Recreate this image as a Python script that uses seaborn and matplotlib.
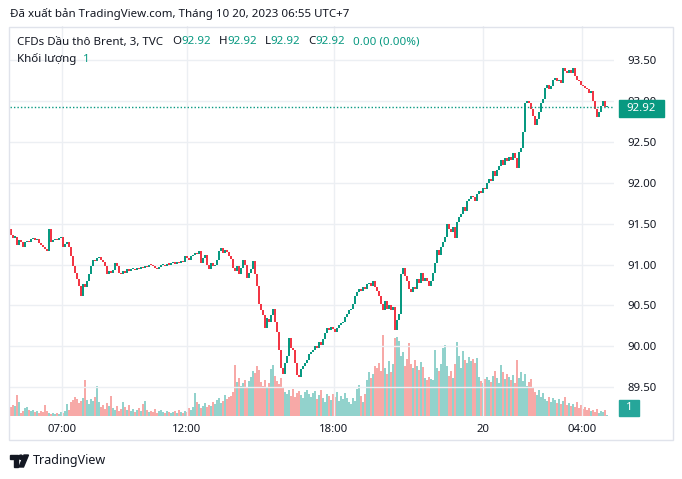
import matplotlib
matplotlib.use("Agg")
import matplotlib.pyplot as plt
import matplotlib.transforms as mtransforms
from matplotlib.patches import Rectangle, Polygon, Circle
import numpy as np
import pandas as pd
import seaborn as sns

# Brent CFD, 3 minute bars (one value per bar)
first_open = 91.43
closes = [
    91.36, 91.33, 91.34, 91.24, 91.30, 91.28, 91.22, 91.27, 91.28, 91.27,
    91.31, 91.32, 91.30, 91.31, 91.26, 91.24, 91.22, 91.19, 91.16, 91.44,
    91.28, 91.30, 91.31, 91.30, 91.32, 91.34, 91.22, 91.25, 91.27, 91.22,
    91.10, 90.98, 90.90, 90.82, 90.74, 90.62, 90.76, 90.72, 90.80, 90.88,
    90.98, 91.06, 91.04, 91.08, 91.09, 91.05, 91.03, 90.98, 90.88, 90.92,
    90.90, 90.93, 91.02, 90.98, 90.90, 90.88, 90.92, 90.90, 90.94, 90.92,
    90.94, 90.95, 90.93, 90.96, 90.95, 90.97, 90.96, 90.98, 90.97, 91.00,
    90.99, 90.98, 90.96, 90.95, 90.97, 90.99, 91.00, 90.98, 91.01, 91.00,
    91.02, 91.03, 91.01, 91.03, 91.02, 91.04, 91.03, 91.10, 91.08, 91.06,
    91.10, 91.12, 91.14, 91.13, 91.16, 91.02, 91.08, 91.12, 91.00, 90.95,
    91.02, 90.98, 91.00, 91.05, 91.16, 91.20, 91.14, 91.18, 91.15, 91.10,
    91.07, 90.96, 90.92, 90.98, 90.88, 90.96, 91.06, 91.00, 90.84, 90.90,
    90.94, 91.04, 90.88, 90.74, 90.52, 90.44, 90.38, 90.22, 90.34, 90.30,
    90.38, 90.46, 90.30, 90.18, 89.95, 89.74, 89.66, 89.80, 89.88, 90.10,
    89.98, 89.95, 89.80, 89.65, 89.62, 89.72, 89.76, 89.80, 89.83, 89.90,
    89.93, 89.96, 90.00, 89.98, 90.05, 90.02, 90.09, 90.16, 90.22, 90.20,
    90.24, 90.21, 90.18, 90.22, 90.26, 90.28, 90.30, 90.36, 90.40, 90.44,
    90.46, 90.52, 90.62, 90.66, 90.70, 90.68, 90.72, 90.70, 90.76, 90.78,
    90.74, 90.80, 90.72, 90.68, 90.62, 90.52, 90.44, 90.56, 90.46, 90.50,
    90.45, 90.48, 90.20, 90.32, 90.40, 90.88, 90.96, 90.86, 90.80, 90.70,
    90.66, 90.72, 90.70, 90.82, 90.78, 90.90, 90.80, 90.84, 90.80, 90.74,
    90.80, 90.90, 91.02, 91.18, 91.12, 91.22, 91.28, 91.34, 91.50, 91.44,
    91.40, 91.46, 91.32, 91.52, 91.58, 91.62, 91.70, 91.66, 91.78, 91.80,
    91.84, 91.82, 91.78, 91.86, 91.90, 91.88, 91.94, 91.92, 92.00, 92.04,
    92.02, 92.14, 92.08, 92.16, 92.20, 92.28, 92.22, 92.30, 92.26, 92.32,
    92.28, 92.36, 92.30, 92.18, 92.38, 92.42, 92.62, 92.98, 93.00, 92.98,
    92.90, 92.82, 92.70, 92.78, 92.86, 92.98, 93.02, 93.16, 93.20, 93.14,
    93.18, 93.26, 93.28, 93.24, 93.26, 93.22, 93.40, 93.36, 93.34, 93.38,
    93.34, 93.40, 93.30, 93.26, 93.24, 93.20, 93.18, 93.16, 93.14, 93.10,
    93.12, 93.00, 92.90, 92.80, 92.86, 92.94, 93.00, 92.92, 92.92,
]
volumes = [
    9, 11, 10, 21, 14, 3, 5, 8, 9, 6,
    5, 6, 4, 5, 3, 5, 4, 11, 5, 3,
    2, 3, 2, 3, 2, 4, 3, 5, 12, 6,
    14, 16, 19, 17, 13, 15, 18, 36, 16, 12,
    17, 15, 19, 30, 14, 9, 11, 7, 13, 10,
    20, 8, 6, 10, 5, 7, 14, 9, 6, 11,
    5, 7, 4, 6, 8, 5, 12, 15, 6, 4,
    5, 4, 7, 3, 5, 6, 4, 3, 5, 4,
    3, 4, 5, 3, 6, 4, 3, 5, 4, 8,
    6, 9, 23, 14, 12, 8, 10, 13, 9, 11,
    10, 14, 12, 16, 18, 13, 15, 21, 17, 19,
    20, 24, 51, 34, 38, 30, 33, 36, 29, 35,
    39, 45, 43, 50, 46, 34, 30, 36, 29, 33,
    47, 51, 40, 35, 32, 38, 28, 24, 22, 26,
    20, 27, 19, 23, 25, 21, 18, 24, 26, 22,
    19, 23, 25, 17, 21, 26, 18, 14, 22, 20,
    16, 22, 19, 24, 15, 20, 17, 23, 18, 14,
    12, 18, 15, 27, 31, 20, 14, 22, 36, 44,
    38, 42, 50, 48, 53, 45, 81, 48, 42, 55,
    44, 52, 78, 79, 75, 60, 64, 50, 57, 73,
    52, 48, 56, 50, 46, 54, 49, 38, 36, 39,
    37, 36, 66, 48, 45, 52, 68, 71, 50, 40,
    45, 38, 52, 74, 60, 48, 65, 56, 53, 59,
    55, 57, 53, 58, 39, 35, 33, 37, 39, 36,
    34, 40, 45, 38, 33, 51, 44, 37, 42, 39,
    36, 41, 33, 56, 38, 44, 35, 42, 30, 34,
    37, 28, 24, 21, 26, 19, 23, 17, 15, 19,
    14, 18, 16, 13, 17, 12, 15, 19, 11, 13,
    10, 12, 9, 14, 8, 11, 7, 9, 6, 8,
    5, 6, 4, 7, 3, 5, 4, 6, 1,
]
time_ticks = [25.5, 88, 161.5, 236, 285.5]   # bar index of each time label
time_labels = ['07:00', '12:00', '18:00', '20', '04:00']
price_ticks = [89.5, 90.0, 90.5, 91.0, 91.5, 92.0, 92.5, 93.0, 93.5]
last_price = 92.92
last_volume = 1
title = 'Đã xuất bản TradingView.com, Tháng 10 20, 2023 06:55 UTC+7'
symbol = 'CFDs Dầu thô Brent, 3, TVC'

UP = '#089981'
DOWN = '#f23645'
UP_VOL = '#92d2cc'
DOWN_VOL = '#f7a9a7'
TXT = '#131722'
GRID = '#eceff3'

W, H = 682, 479

sns.set_style('white')
plt.rcParams['font.family'] = ['Noto Sans', 'DejaVu Sans']

closes = np.array(closes)
opens = np.concatenate([[first_open], closes[:-1]])
idx = np.arange(len(closes))
up = closes >= opens

fig = plt.figure(figsize=(W / 100, H / 100), dpi=100)
fig.patch.set_facecolor('white')
px = mtransforms.Affine2D().scale(1 / W, -1 / H).translate(0, 1) + fig.transFigure

# pane: x 10..614 px, y 26..416 px
ax = fig.add_axes([10 / W, 1 - 416 / H, 604 / W, 390 / H])
ax_vol = ax.twinx()
ax_vol.set_zorder(ax.get_zorder() - 1)
ax.patch.set_visible(False)

# volume
vol_df = pd.DataFrame({'bar': idx, 'volume': volumes,
                       'dir': np.where(up, 'up', 'down')})
sns.barplot(data=vol_df, x='bar', y='volume', hue='dir',
            palette={'up': UP_VOL, 'down': DOWN_VOL}, native_scale=True,
            dodge=False, width=0.75, saturation=1, errorbar=None,
            legend=False, linewidth=0, ax=ax_vol)
ax_vol.set_ylim(0, 390)
ax_vol.yaxis.set_visible(False)
ax_vol.set_xlabel('')
ax_vol.set_ylabel('')

# candles
bottoms = np.minimum(opens, closes)
heights = np.maximum(np.abs(closes - opens), 0.013)
ax.bar(idx, heights, bottom=bottoms, width=0.8,
       color=np.where(up, UP, DOWN), linewidth=0, zorder=3)

ax.axhline(last_price, color=UP, lw=1, linestyle=(0, (1, 1.5)), zorder=4)

ax.set_ylim(89.148, 93.916)
ax.set_xlim(-0.5, 301.5)
ax.set_yticks(price_ticks, [f'{p:.2f}' for p in price_ticks])
ax.set_xticks(time_ticks, time_labels)
ax.yaxis.tick_right()
ax.tick_params(axis='y', length=0, pad=9.5, labelsize=8.2, colors=TXT)
ax.tick_params(axis='x', length=0, pad=6, labelsize=8.2, colors=TXT)
for lab in ax.get_xticklabels():
    if lab.get_text() == '20':
        lab.set_fontweight('bold')
ax.grid(True, color=GRID, lw=1)
ax.set_axisbelow(True)
ax.set_xlabel('')
ax.set_ylabel('')
for a in (ax, ax_vol):
    for s in a.spines.values():
        s.set_visible(False)

# outer frame
fig.patches.append(Rectangle((8.5, 26.5), 664, 414, transform=px, fill=False,
                             edgecolor='#e0e3eb', lw=1, zorder=0))

# price / volume tags on the axis (the price tag covers part of 93.00, as on the chart)
fig.patches.append(Rectangle((619, 100), 45, 17, transform=px, color=UP, zorder=5))
fig.text(641.5, 108.5, f'{last_price:.2f}', transform=px, color='white',
         fontsize=8.2, fontweight='bold', ha='center', va='center', zorder=6)
fig.patches.append(Rectangle((619, 400), 20, 16, transform=px, color='#26a69a', zorder=5))
fig.text(629, 408, str(last_volume), transform=px, color='white',
         fontsize=8.2, fontweight='bold', ha='center', va='center', zorder=6)


def text_row(pieces, x, y, size):
    renderer = fig.canvas.get_renderer()
    for s, color, gap in pieces:
        x += gap
        t = fig.text(x, y, s, transform=px, fontsize=size, color=color,
                     ha='left', va='center')
        x += t.get_window_extent(renderer).width


fig.text(10, 14, title, transform=px, fontsize=8.3, color=TXT, va='center')
p = f'{last_price:.2f}'
text_row([(symbol, TXT, 0), ('O', TXT, 9), (p, UP, 0), ('H', TXT, 8), (p, UP, 0),
          ('L', TXT, 8), (p, UP, 0), ('C', TXT, 8), (p, UP, 0),
          ('0.00 (0.00%)', UP, 8)], 17, 42, 8.3)
text_row([('Khối lượng', TXT, 0), (str(last_volume), UP, 7)], 17, 59, 8.3)

# TradingView logo + name
fig.patches.append(Polygon([(10, 455), (18, 455), (18, 467), (14, 467), (14, 459), (10, 459)],
                           closed=True, transform=px, color=TXT))
fig.patches.append(Circle((20.8, 457.2), 2.1, transform=px, color=TXT))
fig.patches.append(Polygon([(24, 455), (28.5, 455), (23.5, 467), (19, 467)],
                           closed=True, transform=px, color=TXT))
fig.text(33, 461, 'TradingView', transform=px, fontsize=9, color=TXT, va='center')

fig.savefig('out.png', dpi=100, facecolor='white')
